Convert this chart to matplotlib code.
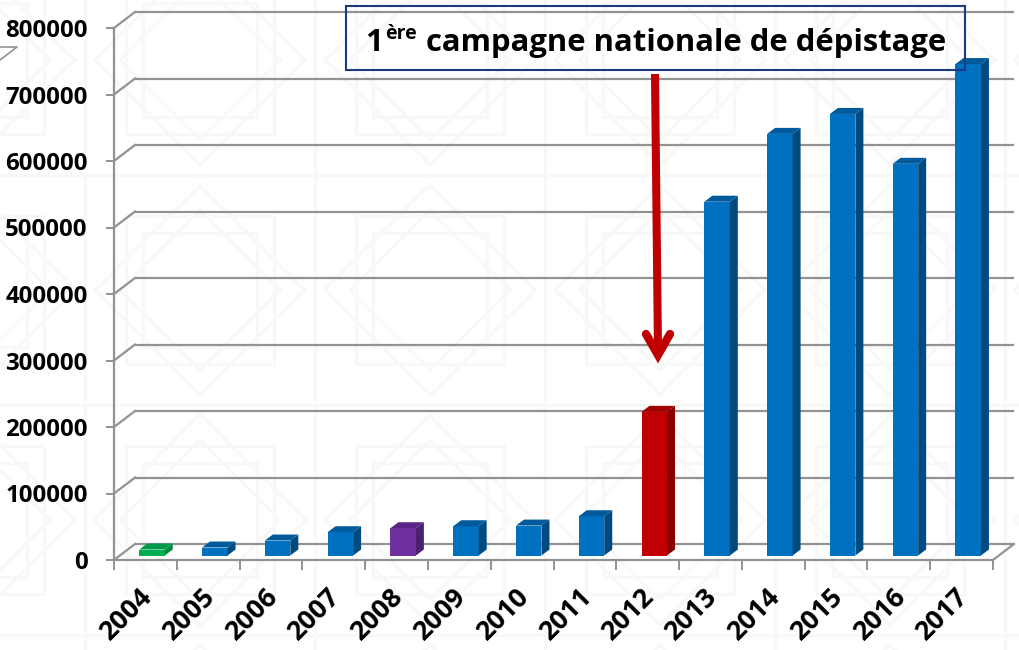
from matplotlib import pyplot as plt
from matplotlib import transforms as mtrans
from matplotlib.lines import Line2D
from matplotlib.patches import Polygon, Rectangle
import numpy as np

W, H = 1019, 650

years = ["2004", "2005", "2006", "2007", "2008", "2009", "2010",
         "2011", "2012", "2013", "2014", "2015", "2016", "2017"]
values = [9000, 12000, 22500, 35000, 41000, 44000, 45000,
          59000, 216000, 532000, 634000, 664000, 589000, 739000]
yticks = [0, 100000, 200000, 300000, 400000, 500000, 600000, 700000, 800000]

# front, side, top
blue = ("#0070C0", "#004A80", "#005A9C")
green = ("#00B050", "#008A45", "#009A48")
purple = ("#7030A0", "#4A2070", "#5A2585")
red = ("#C00000", "#8A0000", "#A00000")
colors = [green, blue, blue, blue, purple, blue, blue,
          blue, red, blue, blue, blue, blue, blue]

GRID = "#929292"
FONT = "Open Sans"

plt.rcParams["font.family"] = [FONT, "DejaVu Sans"]
plt.rcParams["font.weight"] = "bold"

def px(x, y):
    # picture pixels to figure coords
    return x / W, 1 - y / H

def figLine(fig, xs, ys, **kw):
    pts = [px(x, y) for x, y in zip(xs, ys)]
    fig.add_artist(Line2D([p[0] for p in pts], [p[1] for p in pts],
                          transform=fig.transFigure, **kw))

def drawBackground(fig):
    # faint moroccan style pattern behind the chart
    bg = fig.add_axes([0, 0, 1, 1], zorder=-1)
    bg.set_xlim(0, W)
    bg.set_ylim(H, 0)
    bg.axis("off")
    size = 230
    pale = "#F8F8F8"
    for cx in np.arange(-30, W + size, size):
        for cy in np.arange(60, H + size, size):
            for r in (105, 80):
                # two squares on top of each other make the eight point star
                a = np.radians(np.arange(0, 405, 90))
                bg.plot(cx + r * np.cos(a), cy + r * np.sin(a), color=pale, lw=2.2)
                a = a + np.pi / 4
                bg.plot(cx + r * np.cos(a), cy + r * np.sin(a), color=pale, lw=2.2)
            bg.plot([cx - size / 2, cx + size / 2], [cy + size / 2] * 2, color=pale, lw=2.2)
            bg.plot([cx + size / 2] * 2, [cy - size / 2, cy + size / 2], color=pale, lw=2.2)

def draw():
    fig = plt.figure(figsize=(W / 100, H / 100), dpi=100, facecolor="white")
    drawBackground(fig)

    ax = fig.add_axes([114 / W, 90 / H, 879 / W, 532 / H])
    ax.patch.set_alpha(0)
    ax.set_xlim(0, len(years))
    ax.set_ylim(0, 800000)

    for side in ("top", "right"):
        ax.spines[side].set_visible(False)
    for side in ("left", "bottom"):
        ax.spines[side].set_color(GRID)
        ax.spines[side].set_linewidth(1.6)

    # back wall is shifted 21px right and 16px up
    back = mtrans.offset_copy(ax.transData, fig=fig, x=21, y=16, units="dots")
    for v in yticks:
        ax.plot([0, len(years)], [v, v], color=GRID, lw=1.6, transform=back,
                clip_on=False, zorder=1, solid_capstyle="butt")
    pxx = 1 / (879 / len(years))
    pxy = 800000 / 532
    for v in yticks:
        ax.plot([0, 21 * pxx], [v, v + 16 * pxy], color=GRID, lw=1.6,
                clip_on=False, zorder=1)
    ax.plot([len(years), len(years) + 21 * pxx], [0, 16 * pxy], color=GRID,
            lw=1.6, clip_on=False, zorder=1)

    # bars, the front face through ax.bar and the two visible faces by hand
    base = 4.5 * pxy
    bw = 25.5 * pxx
    dx = 8 * pxx
    dy = 6 * pxy
    for i, v in enumerate(values):
        c = i + 0.605
        l, r = c - bw / 2, c + bw / 2
        top = base + v
        ax.bar(c, v, bw, bottom=base, color=colors[i][0], zorder=3, clip_on=False)
        ax.add_patch(Polygon([(r, base), (r + dx, base + dy), (r + dx, top + dy), (r, top)],
                             facecolor=colors[i][1], edgecolor="none", zorder=3, clip_on=False))
        ax.add_patch(Polygon([(l, top), (r, top), (r + dx, top + dy), (l + dx, top + dy)],
                             facecolor=colors[i][2], edgecolor="none", zorder=3, clip_on=False))

    ax.set_yticks(yticks)
    ax.set_yticklabels([str(v) for v in yticks], fontsize=17.3, fontweight="bold")
    ax.tick_params(axis="y", length=6, width=1.4, color=GRID, pad=13)
    ax.set_xticks(np.arange(len(years) + 1))
    ax.set_xticklabels([])
    ax.tick_params(axis="x", which="major", length=7.5, width=1.4, color=GRID)
    ax.set_xticks(np.arange(len(years)) + 0.5, minor=True)
    ax.set_xticklabels(years, minor=True, fontsize=19.3, fontweight="bold",
                       rotation=45, ha="right", va="top", rotation_mode="anchor")
    ax.tick_params(axis="x", which="minor", length=0, pad=17)
    shift = mtrans.ScaledTranslation(-6 / 100, 0, fig.dpi_scale_trans)
    for lab in ax.get_xticklabels(minor=True):
        lab.set_transform(lab.get_transform() + shift)

    # corner left over from the slide
    figLine(fig, [0, 17, 0], [60, 47, 47], color=GRID, lw=1.2)

    # title box, no fill: gridline shows through it
    x0, y0 = px(346, 70)
    x1, y1 = px(965, 6)
    fig.add_artist(Rectangle((x0, y0), x1 - x0, y1 - y0, transform=fig.transFigure,
                             facecolor="none", edgecolor="#1B3A80", lw=1.5, zorder=5))
    tx, ty = px(365, 51)
    fig.text(tx, ty, "1", fontsize=22.3, fontweight="bold", color="black", va="baseline", zorder=6)
    tx, ty = px(385, 39)
    fig.text(tx, ty, "ère", fontsize=14, fontweight="bold", color="black", va="baseline", zorder=6)
    tx, ty = px(426, 51)
    fig.text(tx, ty, "campagne nationale de dépistage", fontsize=22.3, fontweight="bold",
             color="black", va="baseline", zorder=6)

    # red arrow down to 2012
    figLine(fig, [655, 658], [74, 352], color="#C00000", lw=5.8, solid_capstyle="butt", zorder=6)
    figLine(fig, [646, 658, 670], [334, 355, 334], color="#C00000", lw=6,
            solid_capstyle="round", solid_joinstyle="miter", zorder=6)

    fig.savefig("out.png", dpi=100)

draw()
